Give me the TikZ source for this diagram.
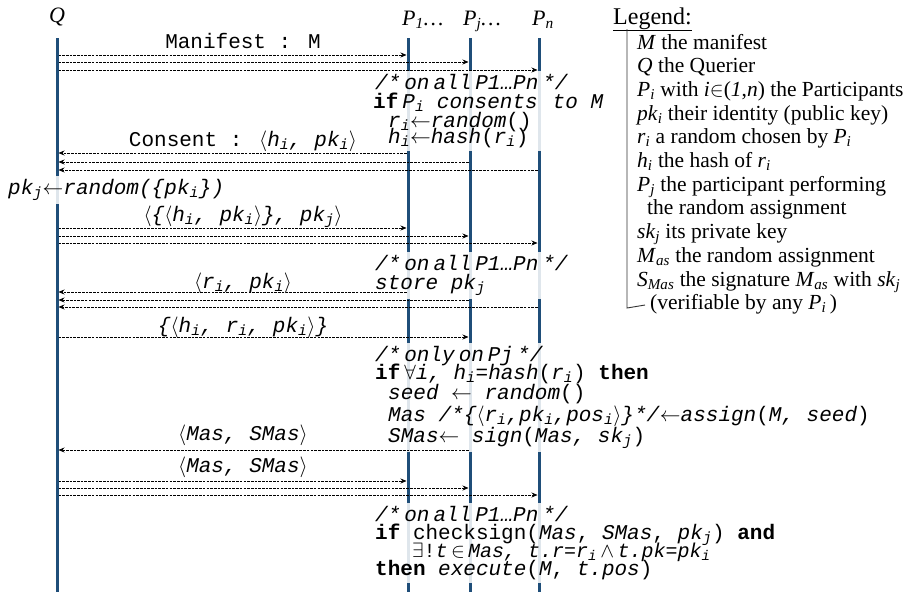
\documentclass[tikz,border=0pt]{standalone}
\usepackage{fontspec}
\setmainfont{Liberation Serif}
\newfontfamily\monofont{Liberation Mono}
\usetikzlibrary{arrows.meta,fit}
\definecolor{lifeblue}{HTML}{1F4E79}
\newcommand\iv[2]{\textit{#1}\textsubscript{\textit{#2}}}
\newcommand\myla{$\langle$}
\newcommand\myra{$\rangle$}
\newcommand\myarr{$\leftarrow$}
\newcommand\ns{\hspace{4pt}}
\pgfdeclarelayer{lines}
\pgfdeclarelayer{bands}
\pgfsetlayers{lines,bands,main}
\tikzset{
  life/.style={line width=3pt, draw=lifeblue},
  msg/.style={draw=black, line width=0.75pt, dash pattern=on 2.6pt off 1.1pt,
    -{Stealth[length=6pt,width=5pt]}, shorten >=1.5pt, shorten <=1.5pt},
  code/.style={font=\monofont\fontsize{21}{24}\selectfont, anchor=base west, inner sep=0pt},
  lbl/.style={font=\monofont\fontsize{21}{24}\selectfont, anchor=base, inner sep=0pt},
  hdr/.style={font=\fontsize{22}{24}\selectfont, inner sep=0pt},
  leg/.style={font=\fontsize{21.5}{24}\selectfont, anchor=base west, inner sep=0pt},
  band/.style={fill=white, fill opacity=0.86, draw=none, inner sep=3pt},
  bracket/.style={draw=black!80, line width=0.9pt}
}
\begin{document}
\begin{tikzpicture}[x=1pt,y=-1pt]
\useasboundingbox (0,0) rectangle (910,597);

% headers
\node[hdr, anchor=base] (Q) at (57,23) {\textit{Q}};
\node[hdr, anchor=base west] (P1) at (402,25) {\textit{P}\textsubscript{\textit{1}}\textit{…}};
\node[hdr, anchor=base west] (Pj) at (463,25) {\textit{P}\textsubscript{\textit{j}}\textit{…}};
\node[hdr, anchor=base west] (Pn) at (532,25) {\textit{P}\textsubscript{\textit{n}}};

% lifelines
\coordinate (Qt) at (57,38);  \coordinate (Qb) at (57,592);
\coordinate (P1t) at (408,38); \coordinate (P1b) at (408,592);
\coordinate (Pjt) at (470,38); \coordinate (Pjb) at (470,592);
\coordinate (Pnt) at (539,38); \coordinate (Pnb) at (539,592);
\begin{pgfonlayer}{lines}
\draw[life] (Qt) -- (Qb);
\draw[life] (P1t) -- (P1b);
\draw[life] (Pjt) -- (Pjb);
\draw[life] (Pnt) -- (Pnb);
\end{pgfonlayer}

% message 1: Manifest
\node[lbl] (l1) at (243,48) {Manifest : M};
\draw[msg] (Qt |- 0,55) -- (P1t |- 0,55);
\draw[msg] (Qt |- 0,62) -- (Pjt |- 0,62);
\draw[msg] (Qt |- 0,70) -- (Pnt |- 0,70);

% block 1
\node[code] (b1a) at (375,89) {\textit{/*\ns on\ns all\ns P1…Pn\ns */}};
\node[code] (b1b) at (373,108) {\textbf{if}\ns\iv{P}{i} \textit{consents\hspace{15pt}to M}};
\node[code] (b1c) at (388,127) {\iv{r}{i}\myarr\textit{random}()};
\node[code] (b1d) at (388,143) {\iv{h}{i}\myarr\textit{hash}(\iv{r}{i})};
\begin{pgfonlayer}{bands}
\node[band, fit=(b1a)(b1b)(b1c)(b1d)] (band1) {};
\end{pgfonlayer}

% message 2: Consent
\node[lbl] (l2) at (243,146) {Consent : \myla\iv{h}{i}\textit{, }\iv{pk}{i}\myra};
\draw[msg] (P1t |- 0,153) -- (Qt |- 0,153);
\draw[msg] (Pjt |- 0,162) -- (Qt |- 0,162);
\draw[msg] (Pnt |- 0,170) -- (Qt |- 0,170);

% pk_j random
\node[code] (pkline) at (8,194) {\iv{pk}{j}\myarr\textit{random(\{}\iv{pk}{i}\textit{\})}};
\begin{pgfonlayer}{bands}
\node[band, fit=(pkline)] (band2) {};
\end{pgfonlayer}

% message 3
\node[lbl] (l3) at (243,221) {\myla\textit{\{}\myla\iv{h}{i}\textit{, }\iv{pk}{i}\myra\textit{\}, }\iv{pk}{j}\myra};
\draw[msg] (Qt |- 0,228) -- (P1t |- 0,228);
\draw[msg] (Qt |- 0,236) -- (Pjt |- 0,236);
\draw[msg] (Qt |- 0,243) -- (Pnt |- 0,243);

% block 2
\node[code] (b2a) at (375,270) {\textit{/*\ns on\ns all\ns P1…Pn\ns */}};
\node[code] (b2b) at (375,289) {\textit{store }\iv{pk}{j}};
\begin{pgfonlayer}{bands}
\node[band, fit=(b2a)(b2b)] (band3) {};
\end{pgfonlayer}

% message 4
\node[lbl] (l4) at (243,288) {\myla\iv{r}{i}\textit{, }\iv{pk}{i}\myra};
\draw[msg] (P1t |- 0,292) -- (Qt |- 0,292);
\draw[msg] (Pjt |- 0,300) -- (Qt |- 0,300);
\draw[msg] (Pnt |- 0,307) -- (Qt |- 0,307);

% message 5
\node[lbl] (l5) at (243,332) {\textit{\{}\myla\iv{h}{i}\textit{, }\iv{r}{i}\textit{, }\iv{pk}{i}\myra\textit{\}}};
\draw[msg] (Qt |- 0,337) -- (Pjt |- 0,337);

% block 3
\node[code] (b3a) at (375,361) {\textit{/*\ns only\ns on\ns Pj\ns */}};
\node[code] (b3b) at (375,379) {\textbf{if}\ns$\forall$\textit{i, }\iv{h}{i}=\textit{hash}(\iv{r}{i}) \textbf{then}};
\node[code] (b3c) at (388,399) {\textit{seed} \myarr\ \textit{random}()};
\node[code] (b3d) at (388,421) {\textit{Mas /*\{}\myla\iv{r}{i}\textit{,}\iv{pk}{i}\textit{,}\iv{pos}{i}\myra\textit{\}*/}\myarr\textit{assign}(\textit{M, seed})};
\node[code] (b3e) at (388,442) {\textit{SMas}\myarr\ \textit{sign}(\textit{Mas, }\iv{sk}{j})};
\begin{pgfonlayer}{bands}
\node[band, fit=(b3a)(b3b)(b3c)(b3d)(b3e)] (band4) {};
\end{pgfonlayer}

% message 6
\node[lbl] (l6) at (243,440) {\myla\textit{Mas, SMas}\myra};
\draw[msg] (Pjt |- 0,450) -- (Qt |- 0,450);

% message 7
\node[lbl] (l7) at (243,472) {\myla\textit{Mas, SMas}\myra};
\draw[msg] (Qt |- 0,481) -- (P1t |- 0,481);
\draw[msg] (Qt |- 0,488) -- (Pjt |- 0,488);
\draw[msg] (Qt |- 0,495) -- (Pnt |- 0,495);

% block 4
\node[code] (b4a) at (375,521) {\textit{/*\ns on\ns all\ns P1…Pn\ns */}};
\node[code] (b4b) at (375,539) {\textbf{if} checksign(\textit{Mas}, \textit{SMas}, \iv{pk}{j}) \textbf{and}};
\node[code, font=\monofont\fontsize{20}{24}\selectfont] (b4c) at (412,557) {$\exists$!\textit{t}\,$\in$\,\textit{Mas, t.r}=\iv{r}{i}\,$\wedge$\,\textit{t.pk}=\iv{pk}{i}};
\node[code] (b4d) at (375,575) {\textbf{then} \textit{execute}(\textit{M},\ \textit{t.pos})};
\begin{pgfonlayer}{bands}
\node[band, fit=(b4a)(b4b)(b4c)(b4d)] (band5) {};
\end{pgfonlayer}

% legend
\node[font=\fontsize{24}{26}\selectfont, anchor=base west, inner sep=0pt] (legT) at (613,24) {\underline{Legend:}};
\coordinate (brA) at (627,29);
\coordinate (brB) at (627,308);
\coordinate (brC) at (645,305);
\draw[bracket] (brA) -- (brB) -- (brC);
\node[leg] (g1) at (637,49) {\textit{M} the manifest};
\node[leg] (g2) at (637,72.7) {\textit{Q} the Querier};
\node[leg] (g3) at (637,96.4) {\iv{P}{i} with \textit{i}$\in$(\textit{1},\textit{n}) the Participants};
\node[leg] (g4) at (637,120.1) {\iv{pk}{i} their identity (public key)};
\node[leg] (g5) at (637,143.8) {\iv{r}{i} a random chosen by \iv{P}{i}};
\node[leg] (g6) at (637,167.5) {\iv{h}{i} the hash of \iv{r}{i}};
\node[leg] (g7) at (637,191.2) {\iv{P}{j} the participant performing};
\node[leg] (g8) at (647,214.9) {the random assignment};
\node[leg] (g9) at (637,238.6) {\iv{sk}{j} its private key};
\node[leg] (g10) at (637,262.3) {\iv{M}{as} the random assignment};
\node[leg] (g11) at (637,286) {\iv{S}{Mas} the signature \iv{M}{as} with \iv{sk}{j}};
\node[leg] (g12) at (650,309.7) {(verifiable by any \iv{P}{i}\,)};
\end{tikzpicture}
\end{document}
